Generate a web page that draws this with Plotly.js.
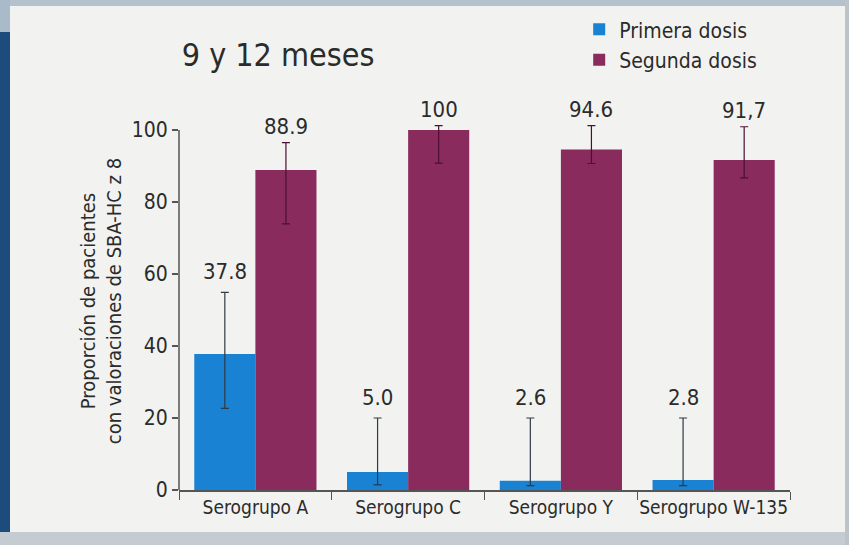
<!DOCTYPE html>
<html>
<head>
<meta charset="utf-8">
<script src="https://cdn.plot.ly/plotly-3.0.1.min.js"></script>
<style>
  html, body { margin: 0; padding: 0; background: #f2f3f0; }
  #wrap { position: relative; width: 849px; height: 545px; overflow: hidden; }
  #chart { position: absolute; left: 0; top: 0; width: 849px; height: 545px; }
  .deco { position: absolute; pointer-events: none; }
</style>
</head>
<body>
<div id="wrap">
  <div id="chart"></div>
  <div class="deco" style="left:0;top:0;width:849px;height:6px;background:#b3c2cd;"></div>
  <div class="deco" style="left:0;top:0;width:10px;height:32px;background:#a9bac8;"></div>
  <div class="deco" style="left:0;top:32px;width:10px;height:500px;background:#1d4c7c;"></div>
  <div class="deco" style="left:0;top:532px;width:849px;height:13px;background:#c4ccd2;"></div>
  <div class="deco" style="left:845px;top:0;width:4px;height:545px;background:#bcc4c9;"></div>
</div>
<script>
// ---- data ----
const categorias = ['Serogrupo A', 'Serogrupo C', 'Serogrupo Y', 'Serogrupo W-135'];
const primeraDosis = [37.8, 5.0, 2.6, 2.8];
const segundaDosis = [88.9, 100, 94.6, 91.7];
// confidence interval limits (upper / lower)
const primeraSup = [54.9, 20.0, 20.0, 20.0];
const primeraInf = [22.7, 1.4, 1.2, 1.2];
const segundaSup = [96.5, 101.2, 101.2, 100.9];
const segundaInf = [73.9, 90.8, 90.7, 86.7];
const etiquetasPrimera = ['37.8', '5.0', '2.6', '2.8'];
const etiquetasSegunda = ['88.9', '100', '94.6', '91,7'];
const yTicks = [0, 20, 40, 60, 80, 100];

const FONT = '"Liberation Sans Narrow", "DejaVu Sans Condensed", "Arial Narrow", sans-serif';
const TXT = '#2b2b2b';
const AXC = '#555555';
const bargap = 0.2;

const errPlus = (sup, v) => sup.map((s, i) => s - v[i]);
const errMinus = (inf, v) => inf.map((m, i) => v[i] - m);

const traces = [
  {
    type: 'bar', name: 'Primera dosis', x: categorias, y: primeraDosis,
    marker: { color: '#1a82d2' },
    error_y: { type: 'data', symmetric: false, array: errPlus(primeraSup, primeraDosis),
               arrayminus: errMinus(primeraInf, primeraDosis), color: '#2e3a48', thickness: 1.2, width: 4 },
    hoverinfo: 'y'
  },
  {
    type: 'bar', name: 'Segunda dosis', x: categorias, y: segundaDosis,
    marker: { color: '#8a2b5d' },
    error_y: { type: 'data', symmetric: false, array: errPlus(segundaSup, segundaDosis),
               arrayminus: errMinus(segundaInf, segundaDosis), color: '#4a1030', thickness: 1.2, width: 4 },
    hoverinfo: 'y'
  }
];

const half = (1 - bargap) / 4;
const annotations = [];
categorias.forEach((c, i) => {
  annotations.push({ x: i - half, y: primeraSup[i], xref: 'x', yref: 'y', text: etiquetasPrimera[i],
    showarrow: false, yanchor: 'bottom', yshift: 6, font: { family: FONT, size: 22, color: TXT } });
  annotations.push({ x: i + half, y: segundaSup[i], xref: 'x', yref: 'y', text: etiquetasSegunda[i],
    showarrow: false, yanchor: 'bottom', yshift: 2, font: { family: FONT, size: 22, color: TXT } });
});

const layout = {
  width: 849, height: 545,
  margin: { l: 179, r: 59, t: 112, b: 55, pad: 0, autoexpand: false },
  paper_bgcolor: 'rgba(0,0,0,0)',
  plot_bgcolor: 'rgba(0,0,0,0)',
  font: { family: FONT, color: TXT, size: 21 },
  title: { text: '9 y 12 meses', x: 0.214, xanchor: 'left', y: 0.90, yanchor: 'middle',
           font: { family: FONT, size: 32, color: TXT } },
  barmode: 'group', bargap: bargap, bargroupgap: 0,
  showlegend: true,
  legend: { x: 0.655, y: 1.272, xanchor: 'left', yanchor: 'top', bgcolor: 'rgba(0,0,0,0)',
            font: { family: FONT, size: 21, color: TXT }, traceorder: 'normal' },
  xaxis: {
    type: 'category', showline: true, linecolor: AXC, linewidth: 1.5,
    ticks: 'outside', tickson: 'boundaries', ticklen: 8, tickcolor: AXC, tickwidth: 1,
    tickangle: 0, automargin: false,
    tickfont: { family: FONT, size: 19, color: TXT }, showgrid: false, zeroline: false,
    range: [-0.5, 3.5]
  },
  yaxis: {
    range: [0, 105], tickvals: yTicks, ticktext: yTicks.map(String), automargin: false,
    showline: false, ticks: 'outside', ticklen: 6, tickcolor: AXC, tickwidth: 1.2,
    tickfont: { family: FONT, size: 21, color: TXT }, showgrid: false, zeroline: false,
    title: { text: 'Proporción de pacientes<br>con valoraciones de SBA-HC z 8',
             font: { family: FONT, size: 20, color: TXT }, standoff: 4 }
  },
  shapes: [
    { type: 'line', xref: 'paper', yref: 'y', x0: 0, x1: 0, y0: 0, y1: 100,
      line: { color: AXC, width: 1.5 } }
  ],
  annotations: annotations
};

Plotly.newPlot('chart', traces, layout, { displayModeBar: false, staticPlot: true });
</script>
</body>
</html>
